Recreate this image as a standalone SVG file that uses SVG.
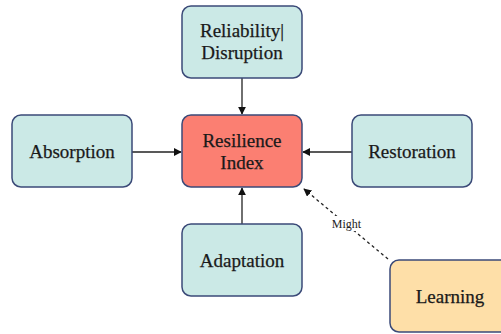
<svg xmlns="http://www.w3.org/2000/svg" width="501" height="334" viewBox="0 0 501 334">
<style>
.box{stroke:#3b4a78;stroke-width:1.5}
.teal{fill:#cbe9e6}
.red{fill:#fb7f72}
.orange{fill:#fedfa8}
.t{font-family:"Liberation Serif","Times New Roman",serif;font-size:19px;fill:#1a1a1a;stroke:#1a1a1a;stroke-width:0.25;text-anchor:middle}
.s{font-family:"Liberation Serif","Times New Roman",serif;font-size:12px;fill:#222;text-anchor:middle}
.c{stroke:#222;stroke-width:1.3;fill:none}
</style>
<defs>
<marker id="ah" viewBox="0 0 10 10" refX="9" refY="5" markerWidth="8" markerHeight="8" markerUnits="userSpaceOnUse" orient="auto">
<path d="M0,0 L10,5 L0,10 z" fill="#111"/>
</marker>
</defs>
<rect width="501" height="334" fill="#fff"/>
<g id="connectors">
<line class="c" x1="242" y1="78" x2="242" y2="114" marker-end="url(#ah)"/>
<line class="c" x1="132" y1="152" x2="181" y2="152" marker-end="url(#ah)"/>
<line class="c" x1="352" y1="152" x2="303" y2="152" marker-end="url(#ah)"/>
<line class="c" x1="242" y1="224" x2="242" y2="188" marker-end="url(#ah)"/>
<line class="c" x1="388" y1="259" x2="304" y2="189" stroke-dasharray="3,3" marker-end="url(#ah)"/>
<rect x="329" y="216" width="35" height="15" fill="#fff"/>
<text class="s" x="346.5" y="228">Might</text>
</g>
<g id="reliability">
<rect class="box teal" x="182" y="6" width="120" height="72" rx="9"/>
<text class="t" x="242" y="37">Reliability|</text>
<text class="t" x="242" y="59">Disruption</text>
</g>
<g id="resilience">
<rect class="box red" x="182" y="115" width="120" height="72" rx="9"/>
<text class="t" x="242" y="147">Resilience</text>
<text class="t" x="242" y="169">Index</text>
</g>
<g id="absorption">
<rect class="box teal" x="12" y="115" width="120" height="72" rx="9"/>
<text class="t" x="72" y="158">Absorption</text>
</g>
<g id="restoration">
<rect class="box teal" x="352" y="115" width="120" height="72" rx="9"/>
<text class="t" x="412" y="158">Restoration</text>
</g>
<g id="adaptation">
<rect class="box teal" x="182" y="224" width="120" height="72" rx="9"/>
<text class="t" x="242" y="267">Adaptation</text>
</g>
<g id="learning">
<rect class="box orange" x="390" y="260" width="120" height="72" rx="9"/>
<text class="t" x="450" y="303">Learning</text>
</g>
</svg>
